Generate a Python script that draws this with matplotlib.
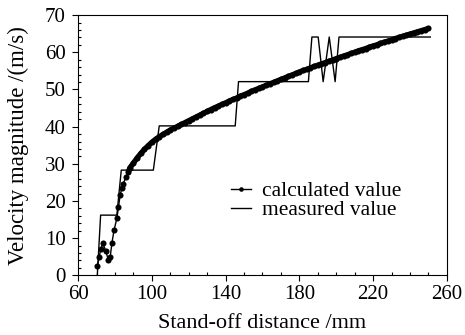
"""
Velocity magnitude vs stand-off distance: calculated vs measured
"""

import matplotlib
matplotlib.use("Agg")
import matplotlib.pyplot as plt
from matplotlib.ticker import MultipleLocator

# calculated value (dots), early scatter then the smooth part every 2 mm
calc_x = [70.5, 71.4, 72.3, 73.4, 75.0, 76.4, 77.4, 78.3, 79.5, 81.0, 81.9,
          82.8, 83.7, 84.6, 85.9, 87.3,
          88, 90, 92, 94, 96, 98, 100, 102, 104, 106, 108, 110, 112, 114,
          116, 118, 120, 122, 124, 126, 128, 130, 132, 134, 136, 138, 140,
          142, 144, 146, 148, 150, 152, 154, 156, 158, 160, 162, 164, 166,
          168, 170, 172, 174, 176, 178, 180, 182, 184, 186, 188, 190, 192,
          194, 196, 198, 200, 202, 204, 206, 208, 210, 212, 214, 216, 218,
          220, 222, 224, 226, 228, 230, 232, 234, 236, 238, 240, 242, 244,
          246, 248, 250]
calc_v = [2.6, 4.9, 7.1, 8.6, 6.6, 4.1, 4.9, 8.6, 12.2, 15.3, 18.4,
          21.6, 23.4, 24.7, 26.5, 27.8,
          28.9, 30.2, 31.6, 32.8, 33.9, 34.9, 35.8, 36.6, 37.3, 37.9, 38.5,
          39.1, 39.6, 40.1, 40.6, 41.1, 41.6, 42.1, 42.6, 43.1, 43.6, 44.1,
          44.6, 45.1, 45.5, 46.0, 46.4, 46.9, 47.3, 47.7, 48.2, 48.6, 49.0,
          49.5, 49.9, 50.3, 50.7, 51.1, 51.5, 51.9, 52.3, 52.7, 53.1, 53.5,
          53.9, 54.3, 54.7, 55.1, 55.4, 55.8, 56.2, 56.5, 56.9, 57.2, 57.6,
          57.9, 58.3, 58.6, 59.0, 59.3, 59.7, 60.0, 60.4, 60.7, 61.0, 61.4,
          61.7, 62.0, 62.4, 62.7, 63.0, 63.3, 63.7, 64.0, 64.3, 64.6, 64.9,
          65.2, 65.5, 65.8, 66.1, 66.4]

# measured value (stepped line)
meas_x = [70.4, 72.2, 81.0, 83.4, 100.8, 104.0, 145.2, 147.0, 184.9, 186.8,
          190.2, 192.9, 196.2, 199.4, 201.5, 251.0]
meas_v = [0, 16.2, 16.2, 28.3, 28.3, 40.2, 40.2, 52.1, 52.1, 64.1,
          64.1, 52.1, 64.1, 52.1, 64.1, 64.1]

x_ticks = [60, 100, 140, 180, 220, 260]
n_scatter = 16  # first points are scattered, the rest merge into a thick band

plt.rcParams['font.family'] = ['Liberation Serif', 'DejaVu Serif']

fig = plt.figure(figsize=(4.65, 3.35), dpi=100)
ax = fig.add_axes([0.168, 0.178, 0.793, 0.777])

# dense dots overlap into a thick band in the original
ax.plot(calc_x[n_scatter - 1:], calc_v[n_scatter - 1:], color='black',
        lw=3.8, solid_capstyle='round', zorder=3)
ax.plot(calc_x, calc_v, color='black', lw=1.0, marker='o', markersize=4.4,
        markeredgewidth=0, label='calculated value', zorder=3)
ax.plot(meas_x, meas_v, color='black', lw=1.0, label='measured value', zorder=2)

ax.set_xlim(60, 260)
ax.set_ylim(0, 70)
ax.set_xticks(x_ticks)
ax.xaxis.set_minor_locator(MultipleLocator(10))
ax.yaxis.set_major_locator(MultipleLocator(10))
ax.yaxis.set_minor_locator(MultipleLocator(2))
ax.tick_params(which='major', direction='out', length=4, width=0.8,
               labelsize=15, pad=3)
ax.tick_params(axis='y', which='major', pad=5)
ax.tick_params(which='minor', direction='in', length=2.5, width=0.8)
for sp in ax.spines.values():
    sp.set_linewidth(0.8)

ax.set_xlabel('Stand-off distance /mm', fontsize=16, labelpad=7)
ax.set_ylabel('Velocity magnitude /(m/s)', fontsize=16.5, labelpad=11)

ax.legend(loc='upper left', bbox_to_anchor=(0.375, 0.42), frameon=False,
          fontsize=15.5, handlelength=0.9, handletextpad=0.5,
          labelspacing=-0.05, borderpad=0.2, markerscale=0.75)

fig.savefig('out.png', dpi=100)
